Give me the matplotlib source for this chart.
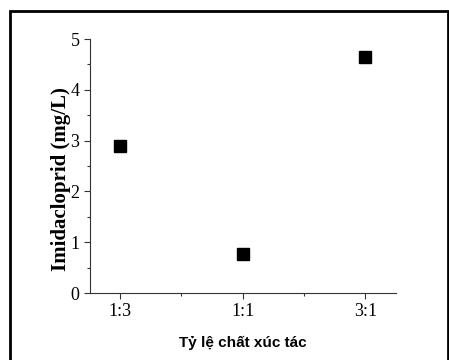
import numpy as np
import matplotlib.pyplot as plt
from matplotlib.patches import Rectangle
from matplotlib.ticker import MultipleLocator

ratios = ["1:3", "1:1", "3:1"]
imidacloprid = [2.89, 0.77, 4.64]

fig = plt.figure(figsize=(4.49, 3.6), dpi=100)
ax = fig.add_axes([90/449, 1 - 293/360, 306/449, 254/360])

xs = np.arange(1, len(ratios) + 1)
ax.plot(xs, imidacloprid, 's', color='black', markersize=8, linestyle='none')

ax.set_xlim(0.755, 3.25)
ax.set_ylim(0, 5)
ax.set_xticks(xs)
ax.set_xticklabels(ratios)
ax.xaxis.set_minor_locator(MultipleLocator(0.5))
ax.yaxis.set_major_locator(MultipleLocator(1))
ax.yaxis.set_minor_locator(MultipleLocator(0.5))

for s in ['top', 'right']:
    ax.spines[s].set_visible(False)
for s in ['left', 'bottom']:
    ax.spines[s].set_color('#333333')
    ax.spines[s].set_linewidth(0.8)

ax.tick_params(which='major', direction='out', length=4, width=0.8, color='#333333')
ax.tick_params(which='minor', direction='out', length=2.5, width=0.8, color='#333333')
for lab in ax.get_xticklabels() + ax.get_yticklabels():
    lab.set_fontfamily('Liberation Serif')
    lab.set_fontsize(13)

ax.set_ylabel('Imidacloprid (mg/L)', fontfamily='Liberation Serif',
              fontweight='bold', fontsize=15)
ax.yaxis.set_label_coords(-0.062, 0.447)
ax.set_xlabel('Tỷ lệ chất xúc tác', fontfamily='Liberation Sans',
              fontweight='bold', fontsize=11, labelpad=11)

# black frame round the figure
fig.patches.append(Rectangle((10/449, -0.05), 438/449, 1.05 - 11/360,
                             transform=fig.transFigure, fill=False,
                             edgecolor='black', linewidth=2))

fig.savefig('out.png', dpi=100)
